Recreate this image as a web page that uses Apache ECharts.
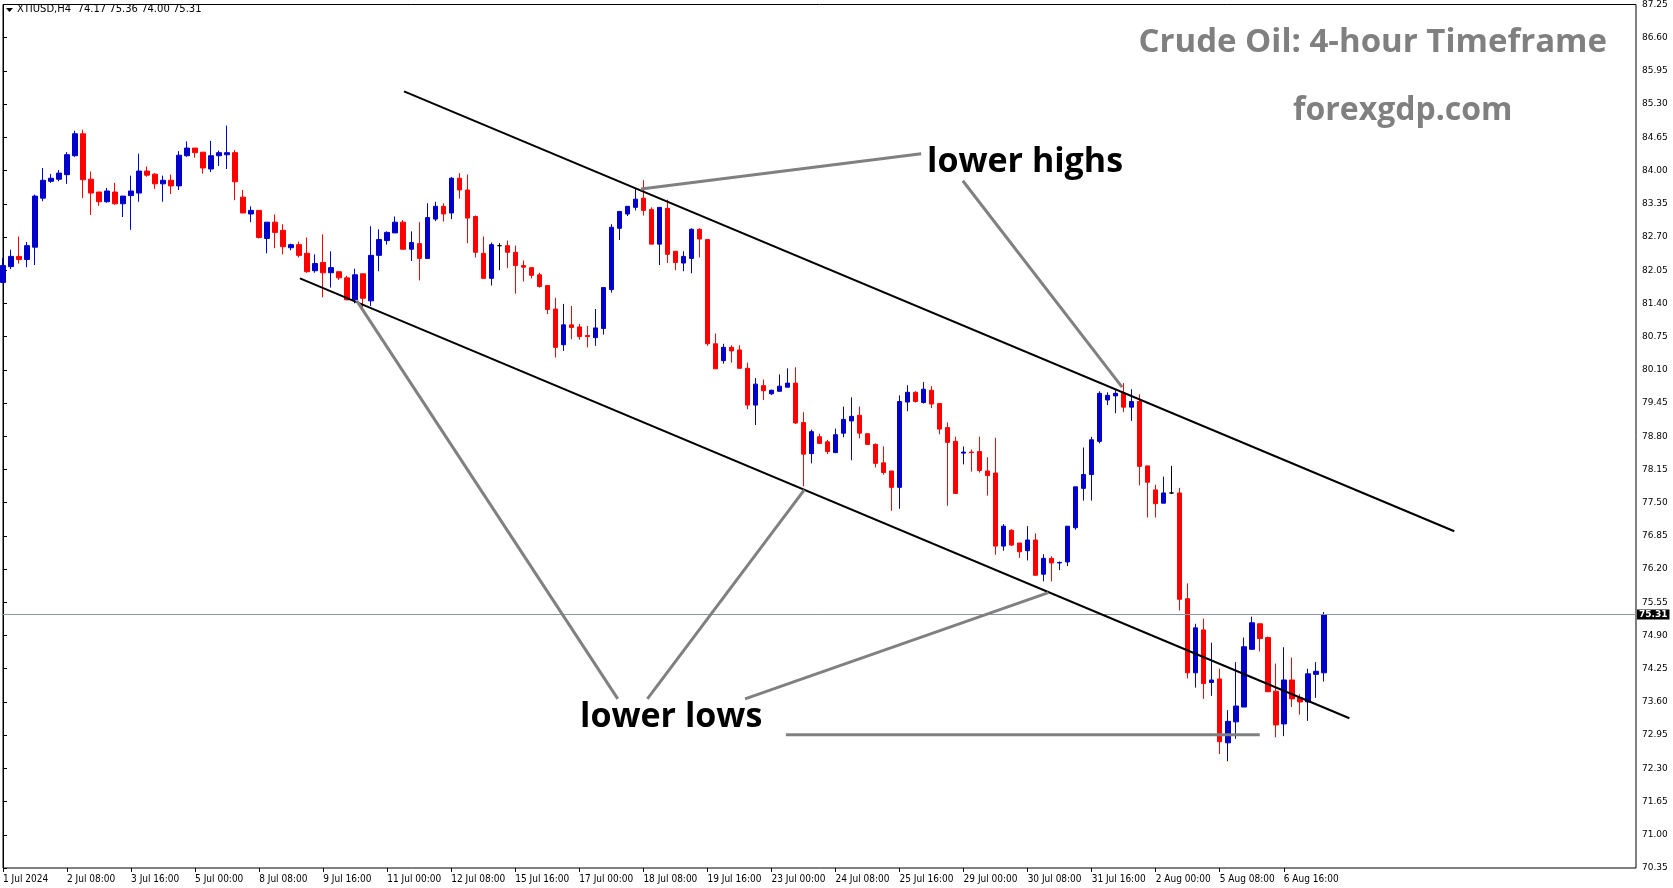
<!DOCTYPE html>
<html><head><meta charset="utf-8">
<script src="https://cdn.jsdelivr.net/npm/echarts@6/dist/echarts.min.js"></script>
<style>html,body{margin:0;padding:0;background:#fff}#c{width:1673px;height:888px}</style>
</head><body><div id="c"></div>
<script>
const tickLabels = ['1 Jul 2024','2 Jul 08:00','3 Jul 16:00','5 Jul 00:00','8 Jul 08:00','9 Jul 16:00','11 Jul 00:00','12 Jul 08:00','15 Jul 16:00','17 Jul 00:00','18 Jul 08:00','19 Jul 16:00','23 Jul 00:00','24 Jul 08:00','25 Jul 16:00','29 Jul 00:00','30 Jul 08:00','31 Jul 16:00','2 Aug 00:00','5 Aug 08:00','6 Aug 16:00'];
const yTicks = {min:70.35, max:87.25, interval:0.65};
const opens = [81.81,82.12,82.32,82.26,82.50,83.46,83.79,83.83,83.92,84.29,84.72,83.83,83.58,83.39,83.58,83.35,83.51,83.56,83.99,83.93,83.74,83.81,83.70,84.29,84.44,84.36,84.03,84.29,84.31,84.35,83.48,83.15,83.22,82.67,82.99,82.83,82.49,82.55,82.38,82.04,82.20,82.00,82.02,81.90,81.47,81.98,81.45,82.34,82.63,82.78,
82.99,82.46,82.57,82.28,83.05,83.30,83.17,83.85,83.62,83.10,82.38,81.89,82.53,82.53,82.40,82.14,82.10,81.96,81.75,81.29,80.59,80.98,80.94,80.77,80.73,80.91,81.67,82.87,83.15,83.28,83.46,83.24,82.56,83.26,82.42,82.19,82.28,82.85,82.65,
80.61,80.28,80.54,80.49,80.13,79.41,79.79,79.63,79.68,79.76,79.84,79.07,78.46,78.79,78.69,78.48,78.86,79.10,79.21,78.85,78.64,78.28,78.12,77.80,79.47,79.66,79.46,79.70,79.44,78.97,78.70,78.47,78.49,78.50,78.12,78.08,76.65,76.96,76.71,
76.56,76.77,76.10,76.41,76.32,76.34,77.01,77.78,78.05,78.70,79.51,79.59,79.64,79.37,79.48,78.22,77.75,77.49,77.69,77.69,75.62,74.17,75.01,73.98,74.05,72.80,73.21,73.50,74.63,75.13,74.86,73.81,73.17,74.03,73.68,73.60,74.14,74.17];
const closes = [82.14,82.32,82.26,82.53,83.50,83.81,83.85,83.95,84.31,84.72,83.82,83.56,83.39,83.60,83.35,83.50,83.60,83.99,83.91,83.74,83.81,83.70,84.30,84.44,84.35,84.05,84.29,84.35,84.35,83.78,83.17,83.22,82.69,82.99,82.79,82.51,82.55,82.34,82.02,82.18,82.00,82.10,81.90,81.47,81.96,81.50,82.34,82.65,82.79,82.99,
82.46,82.59,82.28,83.08,83.30,83.15,83.85,83.62,83.07,82.40,81.89,82.55,82.53,82.40,82.14,82.11,81.95,81.73,81.28,80.54,80.98,80.93,80.75,80.75,80.92,81.71,82.89,83.20,83.30,83.44,83.22,82.56,83.28,82.36,82.20,82.32,82.85,82.66,80.61,
80.12,80.54,80.47,80.13,79.41,79.82,79.69,79.70,79.78,79.84,79.06,78.45,78.89,78.66,78.50,78.83,79.13,79.19,78.86,78.64,78.27,78.09,77.80,79.48,79.66,79.48,79.72,79.43,78.94,78.68,77.68,78.49,78.48,78.13,78.03,76.65,77.04,76.67,76.54,
76.77,76.08,76.41,76.32,76.33,77.04,77.81,78.05,78.73,79.64,79.60,79.64,79.37,79.48,78.21,77.90,77.48,77.69,77.69,75.61,74.17,75.05,73.96,74.03,72.82,73.22,73.52,74.68,75.15,74.84,73.80,73.15,74.03,73.66,73.60,74.15,74.20,75.31];
const highs = [82.29,82.45,82.71,82.60,83.53,84.05,83.93,84.01,84.36,84.78,84.80,83.98,83.58,83.66,83.76,83.50,83.90,84.33,84.08,83.95,83.90,83.92,84.38,84.57,84.44,84.36,84.58,84.39,84.88,84.40,83.62,83.30,83.22,82.99,83.14,82.95,82.57,82.61,82.69,82.36,82.75,82.42,82.02,81.94,82.08,81.98,82.91,82.85,82.81,83.10,
83.03,82.81,82.99,83.36,83.39,83.36,83.87,83.95,83.92,83.12,82.71,82.59,82.58,82.63,82.53,82.24,82.10,82.00,81.75,81.51,81.39,81.35,81.00,80.96,81.29,81.71,82.95,83.20,83.30,83.64,83.81,83.28,83.28,83.43,82.42,82.42,82.87,82.87,82.65,
80.81,80.61,80.58,80.58,80.24,79.94,79.91,79.71,80.01,80.13,80.15,79.27,78.93,78.85,78.73,78.95,79.38,79.56,79.38,78.85,78.66,78.60,78.12,79.60,79.80,79.68,79.86,79.78,79.44,79.07,78.79,78.60,78.54,78.79,78.39,78.77,77.08,76.98,76.71,
77.04,76.90,76.49,76.45,76.35,77.04,77.81,78.58,78.79,79.68,79.66,79.70,79.84,79.72,79.62,78.22,77.85,78.01,78.22,77.79,75.92,75.13,75.23,74.76,74.25,73.44,74.38,74.86,75.27,75.13,74.88,74.35,74.67,74.47,73.75,74.25,74.38,75.36];
const lows = [81.80,82.07,82.18,82.11,82.15,83.40,83.76,83.79,83.74,84.27,83.46,83.13,83.31,83.37,83.33,83.09,82.84,83.39,83.88,83.64,83.39,83.54,83.62,84.27,84.25,83.94,83.97,84.09,84.03,83.42,83.17,82.99,82.67,82.38,82.48,82.36,82.44,82.30,82.00,82.00,81.52,81.71,81.86,81.47,81.40,81.30,81.35,82.03,82.55,82.78,
82.46,82.23,81.85,82.28,83.01,83.00,83.05,83.45,82.58,82.30,81.89,81.75,82.05,82.09,81.59,81.83,81.89,81.71,81.19,80.34,80.47,80.70,80.69,80.54,80.57,80.79,81.61,82.64,83.11,83.22,83.12,82.56,82.15,82.19,82.05,82.03,81.99,82.30,80.57,
80.12,80.22,80.24,80.12,79.33,79.02,79.51,79.61,79.68,79.76,79.04,77.82,78.27,78.65,78.45,78.47,78.78,78.33,78.76,78.64,78.19,78.05,77.34,77.38,79.29,79.46,79.44,79.35,78.84,77.44,77.68,78.25,78.11,78.09,77.64,76.48,76.56,76.65,76.42,
76.37,76.07,75.96,75.96,76.18,76.26,76.97,77.54,77.54,78.66,79.41,79.25,79.27,79.10,77.84,77.21,77.21,77.49,77.67,75.39,74.06,73.88,73.66,73.72,72.58,72.44,72.88,73.50,74.63,74.59,73.80,72.91,72.93,73.50,73.35,73.23,73.68,74.00];
const lastPrice = 75.31;
// annotation lines: [[x(candle index), price], [x, price]]
const channelUpper = [[50.1,85.55],[181.3,76.94]];
const channelLower = [[37.1,81.89],[168.2,73.28]];
const pointerLines = [
  [[79.7,83.64],[114.7,84.33]],
  [[119.9,83.80],[139.8,79.76]],
  [[76.8,73.66],[44.2,81.45]],
  [[80.5,73.66],[100.1,77.75]],
  [[92.7,73.66],[130.6,75.74]],
  [[97.8,72.96],[157.0,72.96]]
];
const N = 205;
const cats = Array.from({length:N},(_,i)=>String(i));
const candles = opens.map((o,i)=>[o,closes[i],lows[i],highs[i]]);

const chart = echarts.init(document.getElementById('c'));
const lineSeries = (pts,color,w)=>({type:'line',xAxisIndex:1,yAxisIndex:0,data:pts,symbol:'none',silent:true,
  lineStyle:{color:color,width:w},z:5,animation:false});
const series = [{
  type:'candlestick', data:candles, barWidth:5,
  itemStyle:{color:'#0000CC',color0:'#FF0000',borderColor:'#0000CC',borderColor0:'#FF0000',borderColorDoji:'#000',borderWidth:1},
  markLine:{symbol:'none',silent:true,animation:false,
    lineStyle:{color:'#8a96a6',width:1,type:'solid'},
    label:{position:'end',formatter:lastPrice.toFixed(2),backgroundColor:'#000',color:'#fff',fontSize:9,fontWeight:'bold',fontFamily:'DejaVu Sans',padding:[1,2,0,2],distance:1},
    data:[{yAxis:lastPrice}]},
  z:3, animation:false
},
lineSeries(channelUpper,'#000',2), lineSeries(channelLower,'#000',2)];
pointerLines.forEach(p=>series.push(lineSeries(p,'#808080',3)));

chart.setOption({
  animation:false,
  grid:{left:3,right:37,top:3,bottom:20,show:true,borderColor:'#000',borderWidth:1,backgroundColor:'#fff'},
  xAxis:[{type:'category',data:cats,boundaryGap:false,
      axisLine:{show:false},
      axisTick:{show:true,interval:(i)=>i%8===0&&i<=160,length:4,lineStyle:{color:'#000'}},
      axisLabel:{interval:(i)=>i%8===0&&i<=160,formatter:(v,i)=>tickLabels[Number(v)/8]||'',align:'left',margin:6,
        fontSize:10,fontFamily:'Liberation Sans Narrow, DejaVu Sans Condensed, sans-serif',color:'#000'},
      splitLine:{show:false}},
    {type:'value',min:0,max:N-1,show:false}],
  yAxis:{type:'value',position:'right',min:yTicks.min,max:yTicks.max,interval:yTicks.interval,scale:true,
    axisLine:{show:true,lineStyle:{color:'#000'}},axisTick:{show:true,length:4,lineStyle:{color:'#000'}},
    axisLabel:{formatter:v=>v.toFixed(2),fontSize:9,fontFamily:'DejaVu Sans',color:'#000',margin:6},
    splitLine:{show:false}},
  graphic:[
    {type:'polygon',shape:{points:[[6,8],[13,8],[9.5,12]]},style:{fill:'#000'}},
    {type:'text',left:17,top:4,style:{text:'XTIUSD,H4  74.17 75.36 74.00 75.31',fontSize:10,fontFamily:'DejaVu Sans',fill:'#000'}},
    {type:'text',right:66,top:26,style:{text:'Crude Oil: 4-hour Timeframe',fontSize:33,fontWeight:'bold',fontFamily:'Open Sans',fill:'#808080'}},
    {type:'text',left:1293,top:95,style:{text:'forexgdp.com',fontSize:32,fontWeight:'bold',fontFamily:'Open Sans',fill:'#808080'}},
    {type:'text',left:927,top:145,style:{text:'lower highs',fontSize:34,fontWeight:'bold',fontFamily:'Open Sans',fill:'#000'}},
    {type:'text',left:580,top:700,style:{text:'lower lows',fontSize:34,fontWeight:'bold',fontFamily:'Open Sans',fill:'#000'}}
  ],
  series:series
});
</script></body></html>
